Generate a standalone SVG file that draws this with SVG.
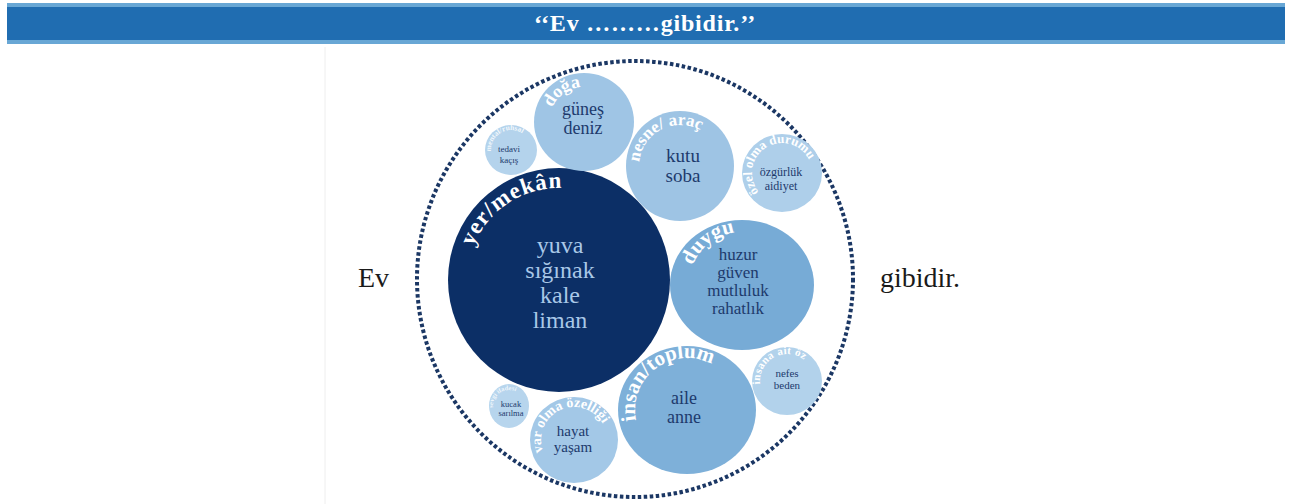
<svg xmlns="http://www.w3.org/2000/svg" xmlns:xlink="http://www.w3.org/1999/xlink" width="1291" height="504" viewBox="0 0 1291 504" font-family="Liberation Serif, serif">
<style>
.lbl{fill:#ffffff;font-weight:bold}
.in{fill:#1d3a6c;text-anchor:middle}
.inl{fill:#a9c8e8;text-anchor:middle}
.side{fill:#1a1a1a;font-size:28px}
</style>
<defs>
<path id="p-yer" d="M559 372 A92 92 0 1 1 559 188 A92 92 0 1 1 559 372"/>
<path id="p-doga" d="M584 157 A35 35 0 1 1 584 87 A35 35 0 1 1 584 157"/>
<path id="p-mental" d="M511 170 A20 20 0 1 1 511 130 A20 20 0 1 1 511 170"/>
<path id="p-nesne" d="M680 207 A41 41 0 1 1 680 125 A41 41 0 1 1 680 207"/>
<path id="p-ozel" d="M782 203 A30 30 0 1 1 782 143 A30 30 0 1 1 782 203"/>
<path id="p-duygu" d="M742 338 A53 53 0 1 1 742 232 A53 53 0 1 1 742 338"/>
<path id="p-insan" d="M687 462 A52 52 0 1 1 687 358 A52 52 0 1 1 687 462"/>
<path id="p-insana" d="M787 408 A27 27 0 1 1 787 354 A27 27 0 1 1 787 408"/>
<path id="p-sevgi" d="M509 422 A16 16 0 1 1 509 390 A16 16 0 1 1 509 422"/>
<path id="p-var" d="M574 473 A33 33 0 1 1 574 407 A33 33 0 1 1 574 473"/>
</defs>
<rect width="1291" height="504" fill="#ffffff"/>
<g id="header">
<rect x="7" y="3" width="1278" height="41" fill="#68a7d5"/>
<rect x="7" y="7" width="1278" height="33" fill="#206db1"/>
<text x="645" y="31" font-family="Liberation Serif, serif" font-weight="bold" font-size="24" letter-spacing="0.8" fill="#ffffff" text-anchor="middle">‘‘Ev ………gibidir.’’</text>
</g>
<line x1="325" y1="47" x2="325" y2="504" stroke="#eeeeee" stroke-width="1"/>
<text class="side" x="358" y="287" font-family="Liberation Serif, serif">Ev</text>
<text class="side" x="880" y="287" font-family="Liberation Serif, serif">gibidir.</text>
<g id="ring">
<circle cx="635" cy="279" r="218" fill="none" stroke="#1b3764" stroke-width="4" stroke-dasharray="3.5 2.5"/>
</g>
<g id="node-yer" font-family="Liberation Serif, serif">
<ellipse cx="559" cy="280" rx="111" ry="112" fill="#0c2f66"/>
<text class="lbl" font-size="23" letter-spacing="1" text-anchor="middle"><textPath xlink:href="#p-yer" href="#p-yer" startOffset="235">yer/mekân</textPath></text>
<text class="inl" font-size="24"><tspan x="560" y="253">yuva</tspan><tspan x="560" y="278">sığınak</tspan><tspan x="560" y="303">kale</tspan><tspan x="560" y="328">liman</tspan></text>
</g>
<g id="node-doga" font-family="Liberation Serif, serif">
<ellipse cx="584" cy="122" rx="50" ry="49" fill="#9fc5e5"/>
<text class="lbl" font-size="18" text-anchor="middle"><textPath xlink:href="#p-doga" href="#p-doga" startOffset="88">doğa</textPath></text>
<text class="in" font-size="18"><tspan x="583" y="115">güneş</tspan><tspan x="583" y="134">deniz</tspan></text>
</g>
<g id="node-mental" font-family="Liberation Serif, serif">
<ellipse cx="511" cy="150" rx="26" ry="25" fill="#b4d3ec"/>
<text class="lbl" font-size="7.5" fill-opacity="0.85" text-anchor="middle"><textPath xlink:href="#p-mental" href="#p-mental" startOffset="52">mental/ruhsal</textPath></text>
<text class="in" font-size="9"><tspan x="509" y="152">tedavi</tspan><tspan x="509" y="163">kaçış</tspan></text>
</g>
<g id="node-nesne" font-family="Liberation Serif, serif">
<ellipse cx="680" cy="166" rx="54" ry="55" fill="#9ec4e4"/>
<text class="lbl" font-size="17" text-anchor="middle"><textPath xlink:href="#p-nesne" href="#p-nesne" startOffset="109">nesne/ araç</textPath></text>
<text class="in" font-size="19"><tspan x="683" y="162">kutu</tspan><tspan x="683" y="182">soba</tspan></text>
</g>
<g id="node-ozel" font-family="Liberation Serif, serif">
<ellipse cx="782" cy="173" rx="40" ry="39" fill="#aecfea"/>
<text class="lbl" font-size="13" text-anchor="middle"><textPath xlink:href="#p-ozel" href="#p-ozel" startOffset="77">özel olma durumu</textPath></text>
<text class="in" font-size="12"><tspan x="781" y="176">özgürlük</tspan><tspan x="781" y="190">aidiyet</tspan></text>
</g>
<g id="node-duygu" font-family="Liberation Serif, serif">
<ellipse cx="742" cy="285" rx="72" ry="65" fill="#77abd6"/>
<text class="lbl" font-size="21" text-anchor="middle"><textPath xlink:href="#p-duygu" href="#p-duygu" startOffset="131">duygu</textPath></text>
<text class="in" font-size="17"><tspan x="738" y="260">huzur</tspan><tspan x="738" y="278">güven</tspan><tspan x="738" y="296">mutluluk</tspan><tspan x="738" y="314">rahatlık</tspan></text>
</g>
<g id="node-insan" font-family="Liberation Serif, serif">
<ellipse cx="687" cy="410" rx="69" ry="64" fill="#7eb0d9"/>
<text class="lbl" font-size="21" text-anchor="middle"><textPath xlink:href="#p-insan" href="#p-insan" startOffset="130">insan/toplum</textPath></text>
<text class="in" font-size="18"><tspan x="684" y="404">aile</tspan><tspan x="684" y="423">anne</tspan></text>
</g>
<g id="node-nefes" font-family="Liberation Serif, serif">
<ellipse cx="787" cy="381" rx="35" ry="34" fill="#b2d2eb"/>
<text class="lbl" font-size="11" letter-spacing="0.4" text-anchor="middle"><textPath xlink:href="#p-insana" href="#p-insana" startOffset="71">insana ait öz</textPath></text>
<text class="in" font-size="11"><tspan x="787" y="377">nefes</tspan><tspan x="787" y="389">beden</tspan></text>
</g>
<g id="node-kucak" font-family="Liberation Serif, serif">
<ellipse cx="509" cy="406" rx="20" ry="22" fill="#b7d5ed"/>
<text class="lbl" font-size="6.5" fill-opacity="0.8" text-anchor="middle"><textPath xlink:href="#p-sevgi" href="#p-sevgi" startOffset="40">sevgi ifadesi</textPath></text>
<text class="in" font-size="8.5"><tspan x="511" y="407">kucak</tspan><tspan x="511" y="416">sarılma</tspan></text>
</g>
<g id="node-var" font-family="Liberation Serif, serif">
<ellipse cx="574" cy="440" rx="44" ry="43" fill="#a3c8e7"/>
<text class="lbl" font-size="14" text-anchor="middle"><textPath xlink:href="#p-var" href="#p-var" startOffset="89">var olma özelliği</textPath></text>
<text class="in" font-size="15"><tspan x="573" y="436">hayat</tspan><tspan x="573" y="452">yaşam</tspan></text>
</g>
</svg>
